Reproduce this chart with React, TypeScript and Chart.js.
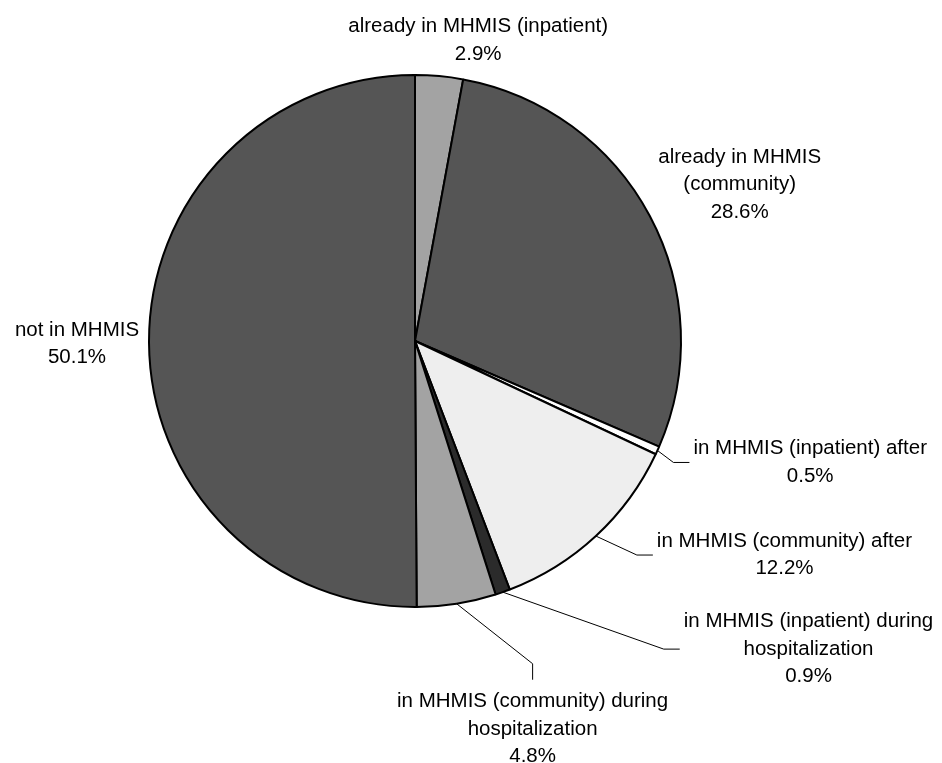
import React, { useEffect, useRef } from "react";
import { Chart, registerables } from "chart.js";

Chart.register(...registerables);

const CATEGORIES = [
  "already in MHMIS (inpatient)",
  "already in MHMIS (community)",
  "in MHMIS (inpatient) after",
  "in MHMIS (community) after",
  "in MHMIS (inpatient) during hospitalization",
  "in MHMIS (community) during hospitalization",
  "not in MHMIS",
];
const VALUES = [2.9, 28.6, 0.5, 12.2, 0.9, 4.8, 50.1];
const LABEL_LINES = [
  ["already in MHMIS (inpatient)"],
  ["already in MHMIS", "(community)"],
  ["in MHMIS (inpatient) after"],
  ["in MHMIS (community) after"],
  ["in MHMIS (inpatient) during", "hospitalization"],
  ["in MHMIS (community) during", "hospitalization"],
  ["not in MHMIS"],
];
const COLORS = ["#a3a3a3", "#555555", "#ffffff", "#eeeeee", "#2b2b2b", "#a3a3a3", "#555555"];

// label placement relative to the slice's outer mid point
const LABEL_LAYOUT: any[] = [
  { type: "free", dx: 39, dy: -36 },
  { type: "free", dx: 90, dy: -31 },
  { type: "right", dx: 16, dy: 12 },
  { type: "right", dx: 41, dy: 19 },
  { type: "right", dx: 161, dy: 57 },
  { type: "down", dx: 76, dy: 60 },
  { type: "free", dx: -72, dy: 2 },
];

const FONT = '20.5px "Liberation Sans", Arial, sans-serif';
const LINE_H = 27.5;

const labelPlugin = {
  id: "outsideLabels",
  afterDraw(chart: any) {
    const ctx = chart.ctx;
    const meta = chart.getDatasetMeta(0);
    ctx.save();
    ctx.font = FONT;
    ctx.fillStyle = "#000";
    ctx.strokeStyle = "#000";
    ctx.lineWidth = 1;
    ctx.textAlign = "center";
    ctx.textBaseline = "middle";
    meta.data.forEach((arc: any, i: number) => {
      const p = arc.getProps(["x", "y", "startAngle", "endAngle", "outerRadius"], true);
      const mid = (p.startAngle + p.endAngle) / 2;
      const ax = p.x + Math.cos(mid) * p.outerRadius;
      const ay = p.y + Math.sin(mid) * p.outerRadius;
      const lines = [...LABEL_LINES[i], VALUES[i].toFixed(1) + "%"];
      const maxW = Math.max(...lines.map((l) => ctx.measureText(l).width));
      const lay = LABEL_LAYOUT[i];
      const n = lines.length;
      let cx = 0;
      let cy = 0;
      if (lay.type === "free") {
        cx = ax + lay.dx;
        cy = ay + lay.dy;
      } else if (lay.type === "right") {
        const ex = ax + lay.dx;
        const ey = ay + lay.dy;
        ctx.beginPath();
        ctx.moveTo(ax, ay);
        ctx.lineTo(ex, ey);
        ctx.lineTo(ex + 16, ey);
        ctx.stroke();
        cx = ex + 16 + 4 + maxW / 2;
        cy = ey;
      } else {
        const ex = ax + lay.dx;
        const ey = ay + lay.dy;
        ctx.beginPath();
        ctx.moveTo(ax, ay);
        ctx.lineTo(ex, ey);
        ctx.lineTo(ex, ey + 16);
        ctx.stroke();
        cx = ex;
        cy = ey + 16 + 8 + (n * LINE_H) / 2;
      }
      lines.forEach((l, k) => {
        ctx.fillText(l, cx, cy + (k - (n - 1) / 2) * LINE_H);
      });
    });
    ctx.restore();
  },
};

export default function App() {
  const ref = useRef<HTMLCanvasElement>(null);
  useEffect(() => {
    if (!ref.current) return;
    const chart = new Chart(ref.current, {
      type: "pie",
      data: {
        labels: CATEGORIES,
        datasets: [
          {
            data: VALUES,
            backgroundColor: COLORS,
            borderColor: "#000",
            borderWidth: 2,
          },
        ],
      },
      options: {
        responsive: false,
        animation: false,
        layout: { padding: { left: 148, right: 260, top: 74, bottom: 155 } },
        plugins: {
          legend: { display: false },
          tooltip: { enabled: false },
          title: { display: false },
        },
      },
      plugins: [labelPlugin],
    });
    return () => chart.destroy();
  }, []);
  return (
    <div style={{ position: "fixed", left: 0, top: 0, width: 942, height: 763, background: "#fff" }}>
      <canvas ref={ref} width={942} height={763} style={{ display: "block" }} />
    </div>
  );
}
